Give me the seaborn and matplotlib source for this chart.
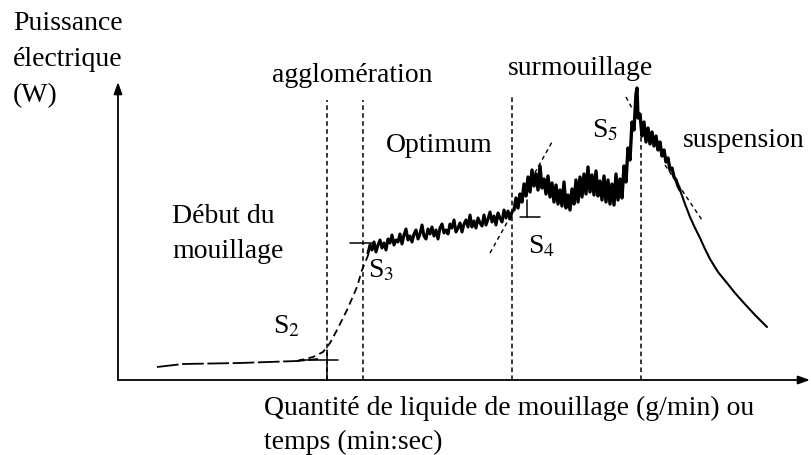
import matplotlib
matplotlib.use("Agg")
import matplotlib.pyplot as plt
import seaborn as sns
import pandas as pd

# ---------------- data (chart units: x to the right of the y axis, y above the x axis)
base_x = [39, 65, 122, 179, 200]
base_y = [13, 16, 17, 19, 21]

rise_x = [179, 195, 205, 212, 219, 229, 239, 244, 249, 252]
rise_y = [19, 23, 28, 37, 50, 70, 93, 110, 122, 130]

opt_x = [250, 252, 254, 256, 258, 260, 262, 264, 266, 268, 270, 272, 274, 276, 278,
         280, 282, 284, 286, 288, 290, 292, 294, 296, 298, 300, 302, 304, 306, 308,
         310, 312, 314, 316, 318, 320, 322, 324, 326, 328, 330, 332, 334, 336, 338,
         340, 342, 344, 346, 348, 350, 352, 354, 356, 358, 360, 362, 364, 366, 368,
         370, 372, 374, 376, 378, 380, 382, 384, 386, 388, 390, 392, 394]
opt_y = [127, 135, 130, 138, 128, 135, 140, 132, 137, 130, 141, 137, 145, 135, 140,
         138, 146, 136, 145, 151, 140, 144, 138, 146, 150, 141, 146, 155, 144, 141,
         151, 146, 153, 144, 150, 141, 152, 156, 147, 150, 146, 156, 152, 160, 148,
         152, 157, 148, 156, 160, 153, 165, 153, 159, 152, 162, 157, 154, 165, 155,
         161, 168, 158, 164, 155, 167, 162, 158, 170, 162, 169, 161, 168]

over_x = [396, 398, 400, 402, 404, 406, 408, 410, 412, 414, 416, 418, 420, 422, 424,
          426, 428, 430, 432, 434, 436, 438, 440, 442, 444, 446, 448, 450, 452, 454,
          456, 458, 460, 462, 464, 466, 468, 470, 472, 474, 476, 478, 480, 482, 484,
          486, 488, 490, 492, 494, 496, 498, 500, 502, 504, 506, 508, 510, 512, 514,
          516, 518, 519, 520, 522, 524, 526, 528, 530, 532, 534, 536, 538, 540, 542,
          544, 546, 548, 550, 552, 554, 556, 558, 560, 562]
over_y = [170, 182, 172, 186, 178, 196, 184, 203, 188, 210, 194, 206, 190, 214, 192,
          201, 186, 204, 183, 197, 178, 195, 176, 190, 174, 198, 172, 185, 170, 191,
          176, 200, 178, 203, 183, 206, 186, 213, 188, 205, 185, 209, 184, 199, 180,
          204, 178, 200, 176, 196, 175, 206, 180, 201, 182, 214, 198, 232, 220, 258,
          250, 286, 292, 262, 266, 244, 258, 238, 252, 236, 248, 234, 244, 230, 238,
          224, 230, 218, 222, 210, 212, 203, 200, 194, 190]

susp_x = [562, 567, 572, 577, 582, 587, 592, 600, 609, 617, 625, 637, 649]
susp_y = [190, 176, 163, 152, 142, 131, 121, 108, 97, 87, 78, 65, 53]

stage_x = [209, 245, 394, 523]
stage_top = [280, 280, 285, 263]

tan_s2 = ([182, 220], [20, 20])
tan_s3 = ([232, 255], [137, 137])
tan_s4a = ([372, 434], [127, 238])
tan_s4b = ([402, 422], [163, 163])
tan_s4c = ([409, 409], [163, 180])
tan_s5 = ([508, 515], [283, 270])
tan_susp = ([547, 584], [215, 160])

# ---------------- figure
sns.set_style("white")
plt.rcParams["font.family"] = ["Liberation Serif", "DejaVu Serif"]
plt.rcParams["mathtext.fontset"] = "stix"

fig = plt.figure(figsize=(8.11, 4.55), dpi=100)
ax = fig.add_axes([0, 0, 1, 1])
ax.set_xlim(-118, 693)
ax.set_ylim(-75, 380)
ax.set_axis_off()

# axes with arrows
arrow = dict(arrowstyle="-|>,head_length=0.7,head_width=0.25", color="black", lw=1.3,
             shrinkA=0, shrinkB=0)
ax.annotate("", xy=(0, 298), xytext=(0, 0), arrowprops=arrow)
ax.annotate("", xy=(692, 0), xytext=(0, 0), arrowprops=arrow)

# stage boundaries
for sx, st in zip(stage_x, stage_top):
    ax.plot([sx, sx], [0, st], color="black", lw=1.1, dashes=(3, 2.2))
ax.plot([209, 209], [0, 30], color="black", lw=1.1)

def seg(x, y, **kw):
    df = pd.DataFrame({"x": x, "y": y})
    sns.lineplot(data=df, x="x", y="y", ax=ax, sort=False, estimator=None,
                 color="black", **kw)

seg(base_x, base_y, lw=1.3, dashes=(12, 2))
seg(rise_x, rise_y, lw=1.3, dashes=(4, 2.5))
seg(opt_x, opt_y, lw=2.2)
seg(over_x, over_y, lw=2.4)
seg(susp_x, susp_y, lw=1.5)

for tx, ty in [tan_s2, tan_s3, tan_s4b, tan_s4c]:
    ax.plot(tx, ty, color="black", lw=1.1)
for tx, ty in [tan_s4a, tan_s5, tan_susp]:
    ax.plot(tx, ty, color="black", lw=1.0, dashes=(3, 2.5))

ax.set_xlabel("")
ax.set_ylabel("")

fs = 20
def t(x, y, s, **kw):
    ax.text(x, y, s, fontsize=fs, color="black", va="baseline", ha="left", **kw)

# texts (positions in chart units)
t(-105, 350, "Puissance")
t(-105, 314, "électrique")
t(-105, 278, "(W)")
t(154, 298, "agglomération")
t(390, 305, "surmouillage")
t(268, 228, "Optimum")
t(565, 233, "suspension")
t(54, 157, "Début du")
t(54, 122, "mouillage")
t(146, -35, "Quantité de liquide de mouillage (g/min) ou")
t(146, -69, "temps (min:sec)")
t(155, 47, r"S$_2$")
t(250, 103, r"S$_3$")
t(410, 127, r"S$_4$")
t(474, 243, r"S$_5$")

fig.savefig("out.png", dpi=100)
